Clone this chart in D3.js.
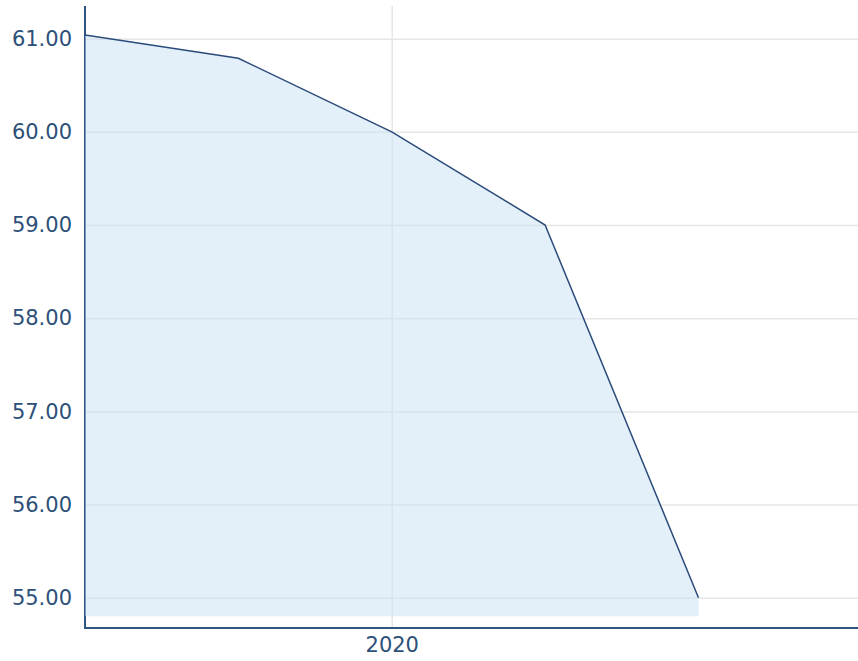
<!DOCTYPE html>
<html>
<head>
<meta charset="utf-8">
<script src="https://cdn.jsdelivr.net/npm/d3@7"></script>
<style>
  body { margin: 0; background: #fff; }
  .grafico text { font-family: "DejaVu Sans", Verdana, sans-serif; font-size: 21px; fill: #2d5079; }
</style>
</head>
<body>
<svg class="grafico" width="858" height="661"></svg>
<script>
// Datos
var anios = [2018, 2019, 2020, 2021, 2022];
var valores = [61.04, 60.79, 60.00, 59.00, 55.00];
var ticksX = [2020];
var ticksY = [55, 56, 57, 58, 59, 60, 61];
var baseArea = 54.8;

var izq = 85, arriba = 6, abajo = 628, der = 858;

// Escalas
var x = d3.scaleLinear()
  .domain([2018, 2023.04])
  .range([izq, der]);

var y = d3.scaleLinear()
  .domain([54.675, 61.351])
  .range([abajo, arriba]);

var svg = d3.select(".grafico");

// Rejilla horizontal
svg.append("g")
  .attr("transform", "translate(" + izq + ",0)")
  .call(d3.axisLeft(y).tickValues(ticksY).tickSize(-(der - izq)).tickFormat(""))
  .call(function(g) {
    g.select(".domain").remove();
    g.selectAll("line").attr("stroke", "#e6e6e6").attr("stroke-width", 1.5);
  });

// Rejilla vertical
svg.append("g")
  .attr("transform", "translate(0," + abajo + ")")
  .call(d3.axisBottom(x).tickValues(ticksX).tickSize(-(abajo - arriba)).tickFormat(""))
  .call(function(g) {
    g.select(".domain").remove();
    g.selectAll("line").attr("stroke", "#e6e6e6").attr("stroke-width", 1.5);
  });

// Eje izquierdo (línea)
svg.append("line")
  .attr("x1", izq).attr("x2", izq)
  .attr("y1", arriba).attr("y2", abajo)
  .attr("stroke", "#2e5482").attr("stroke-width", 2);

var datos = anios.map(function(a, i) { return { anio: a, valor: valores[i] }; });

// Área
var area = d3.area()
  .x(function(d) { return x(d.anio); })
  .y0(y(baseArea))
  .y1(function(d) { return y(d.valor); });

svg.append("path")
  .datum(datos)
  .attr("d", area)
  .attr("fill", "rgb(199,223,243)")
  .attr("fill-opacity", 0.5);

// Línea
var linea = d3.line()
  .x(function(d) { return x(d.anio); })
  .y(function(d) { return y(d.valor); });

svg.append("path")
  .datum(datos)
  .attr("d", linea)
  .attr("fill", "none")
  .attr("stroke", "#2b4c7a")
  .attr("stroke-width", 1.5);

// Etiquetas eje Y
svg.append("g")
  .attr("transform", "translate(" + izq + ",0)")
  .call(d3.axisLeft(y).tickValues(ticksY).tickSize(0).tickPadding(13).tickFormat(d3.format(".2f")))
  .call(function(g) {
    g.select(".domain").remove();
    g.selectAll("text").attr("font-family", null).attr("font-size", null).attr("fill", null);
  });

// Eje inferior
svg.append("g")
  .attr("transform", "translate(0," + abajo + ")")
  .call(d3.axisBottom(x).tickValues(ticksX).tickSize(0).tickPadding(9).tickFormat(d3.format("d")))
  .call(function(g) {
    g.select(".domain").remove();
    g.selectAll("text").attr("font-family", null).attr("font-size", null).attr("fill", null);
  });

svg.append("line")
  .attr("x1", izq - 1).attr("x2", der)
  .attr("y1", abajo).attr("y2", abajo)
  .attr("stroke", "#2e5482").attr("stroke-width", 2);
</script>
</body>
</html>
